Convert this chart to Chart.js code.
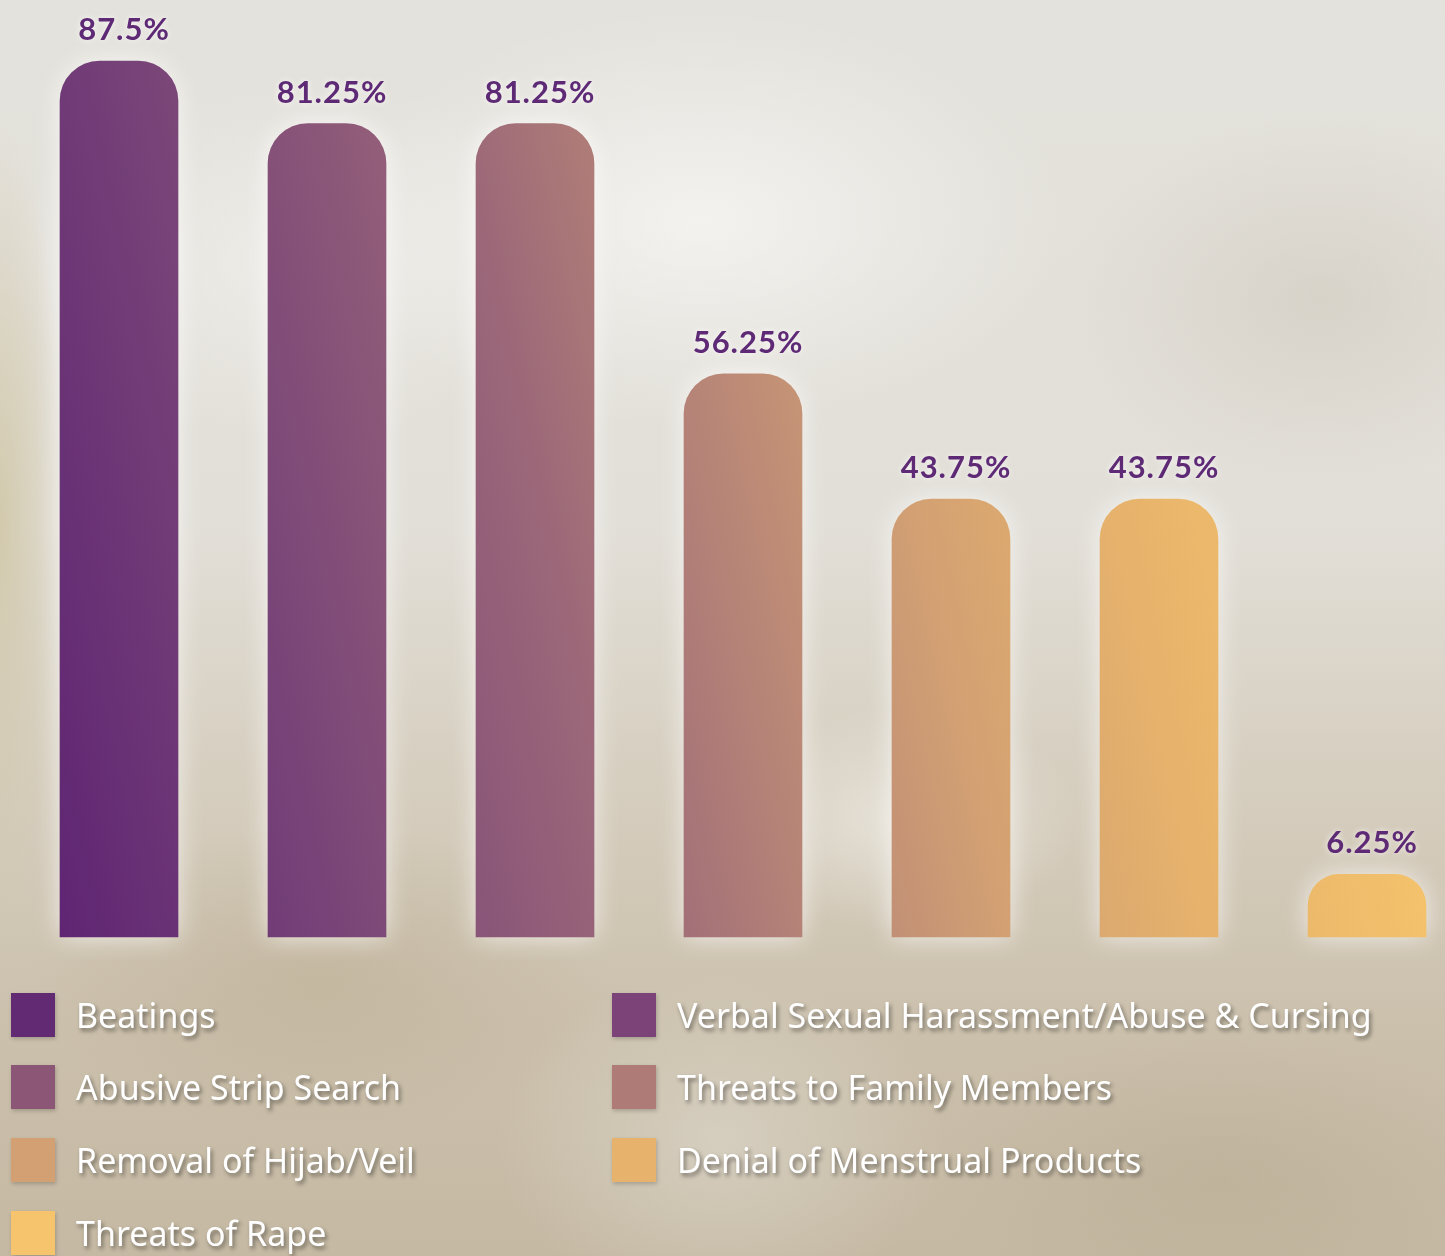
<!DOCTYPE html>
<html>
<head>
<meta charset="utf-8">
<script src="https://cdn.jsdelivr.net/npm/chart.js@4.4.1/dist/chart.umd.min.js"></script>
<style>
html,body{margin:0;padding:0;width:1445px;height:1256px;overflow:hidden;}
body{
  position:relative;
  background:
    radial-gradient(ellipse 520px 300px at 700px 220px, rgba(246,245,242,0.85), rgba(246,245,242,0) 70%),
    radial-gradient(ellipse 420px 260px at 300px 260px, rgba(242,240,236,0.75), rgba(242,240,236,0) 70%),
    radial-gradient(ellipse 360px 260px at 1320px 300px, rgba(205,200,188,0.55), rgba(205,200,188,0) 70%),
    radial-gradient(ellipse 90px 520px at 0px 520px, rgba(205,194,158,0.75), rgba(205,194,158,0) 75%),
    radial-gradient(ellipse 260px 160px at 900px 820px, rgba(238,235,228,0.7), rgba(238,235,228,0) 70%),
    radial-gradient(ellipse 420px 220px at 320px 980px, rgba(188,174,148,0.55), rgba(188,174,148,0) 70%),
    radial-gradient(ellipse 320px 240px at 720px 1140px, rgba(222,217,206,0.6), rgba(222,217,206,0) 70%),
    radial-gradient(ellipse 420px 220px at 1220px 1180px, rgba(184,170,146,0.5), rgba(184,170,146,0) 70%),
    linear-gradient(180deg, #e4e2dc 0%, #e2dfd8 42%, #d6cebf 62%, #cbc0ac 82%, #c5b9a3 100%);
}
#wrap{position:absolute;left:0;top:0;width:1445px;height:960px;}
#legend{position:absolute;left:0;top:0;width:1445px;height:1256px;pointer-events:none;}
.item{position:absolute;display:flex;align-items:center;height:44px;}
.box{width:44px;height:44px;flex:none;box-shadow:1px 2px 4px rgba(0,0,0,0.2);}
.lbl{font-family:'Noto Sans',sans-serif;font-size:34px;color:#ffffff;
  text-shadow:2px 3px 4px rgba(0,0,0,0.45);margin-left:21px;white-space:nowrap;line-height:44px;}
</style>
</head>
<body>
<div id="wrap"><canvas id="c"></canvas></div>
<div id="legend"></div>
<script>
// ---- data ----
const categories = [
  "Beatings",
  "Verbal Sexual Harassment/Abuse & Cursing",
  "Abusive Strip Search",
  "Threats to Family Members",
  "Removal of Hijab/Veil",
  "Denial of Menstrual Products",
  "Threats of Rape"
];
const percentages = [87.5, 81.25, 81.25, 56.25, 43.75, 43.75, 6.25];
const valueLabels = ["87.5%", "81.25%", "81.25%", "56.25%", "43.75%", "43.75%", "6.25%"];
const legendColors = ["#622a73", "#7b4378", "#8c5676", "#af7b77", "#d3a074", "#e7b26c", "#f6c46c"];
const gradientStops = [
  [0.00, "#5f2573"], [0.18, "#764278"], [0.40, "#9b6779"], [0.52, "#b58377"],
  [0.66, "#d2a073"], [0.80, "#e6b26c"], [1.00, "#f7c66b"]
];

let gradCache = null;
function barGradient(ctx) {
  const chart = ctx.chart;
  const area = chart.chartArea;
  if (!area) return legendColors[ctx.dataIndex];
  const key = area.left + "_" + area.right + "_" + area.bottom;
  if (gradCache && gradCache.key === key) return gradCache.g;
  const x0 = area.left - 59, x1 = area.right + 59;
  const g = chart.ctx.createLinearGradient(x0, area.bottom, x1, area.bottom - 300);
  gradientStops.forEach(s => g.addColorStop(s[0], s[1]));
  gradCache = {key, g};
  return g;
}

const glowPlugin = {
  id: 'glow',
  beforeDatasetDraw(chart) {
    const c = chart.ctx;
    c.save();
    c.shadowColor = 'rgba(255,255,255,0.7)';
    c.shadowBlur = 26;
    c.shadowOffsetX = 0;
    c.shadowOffsetY = 0;
  },
  afterDatasetDraw(chart) { chart.ctx.restore(); }
};

const valueLabelPlugin = {
  id: 'valueLabels',
  afterDatasetsDraw(chart) {
    const c = chart.ctx;
    const meta = chart.getDatasetMeta(0);
    c.save();
    c.font = '700 31px Lato, "Open Sans", sans-serif';
    try { c.letterSpacing = '1px'; } catch (e) {}
    c.fillStyle = '#5e2a76';
    c.textAlign = 'center';
    c.textBaseline = 'alphabetic';
    c.shadowColor = 'rgba(255,255,255,0.8)';
    c.shadowBlur = 6;
    meta.data.forEach((bar, i) => {
      c.fillText(valueLabels[i], bar.x + 5, bar.y - 21);
    });
    c.restore();
  }
};

const chart = new Chart(document.getElementById('c'), {
  type: 'bar',
  data: {
    labels: categories,
    datasets: [{
      data: percentages,
      backgroundColor: barGradient,
      borderWidth: 0,
      borderRadius: {topLeft: 40, topRight: 40, bottomLeft: 0, bottomRight: 0},
      borderSkipped: 'bottom',
      barThickness: 118,
      clip: false
    }]
  },
  options: {
    responsive: true,
    maintainAspectRatio: false,
    animation: false,
    layout: {padding: {left: 119, right: 78, top: 36, bottom: 23}},
    scales: {
      x: {type: 'category', offset: false, display: false, grid: {display: false}},
      y: {min: 0, max: 90, display: false, grid: {display: false}}
    },
    plugins: {
      legend: {display: false},
      tooltip: {enabled: false}
    }
  },
  plugins: [glowPlugin, valueLabelPlugin]
});

// ---- legend (two columns, row-major) ----
const legend = document.getElementById('legend');
const colX = [11, 612];
const rowY = [993, 1065, 1138, 1211];
categories.forEach((name, i) => {
  const item = document.createElement('div');
  item.className = 'item';
  item.style.left = colX[i % 2] + 'px';
  item.style.top = rowY[Math.floor(i / 2)] + 'px';
  const box = document.createElement('div');
  box.className = 'box';
  box.style.background = legendColors[i];
  const lbl = document.createElement('span');
  lbl.className = 'lbl';
  lbl.textContent = name;
  item.appendChild(box);
  item.appendChild(lbl);
  legend.appendChild(item);
});
</script>
</body>
</html>
